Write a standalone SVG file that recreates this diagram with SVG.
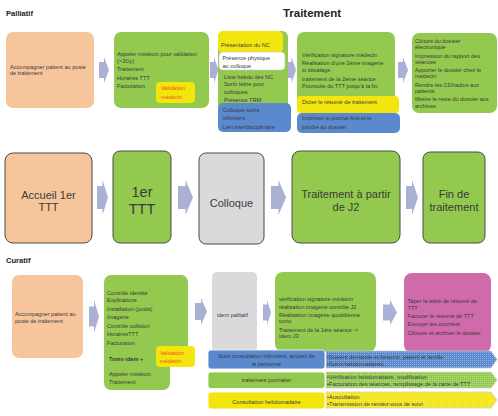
<svg xmlns="http://www.w3.org/2000/svg" width="498" height="416" viewBox="0 0 498 416">
<defs>
<style>
text{font-family:"Liberation Sans",Arial,sans-serif;fill:#3a3a3a}
.s{font-size:5.6px}
.h{font-size:7.6px;font-weight:bold;fill:#222}
.m{font-size:11px;text-anchor:middle}
.c{text-anchor:middle}
.r{fill:#f0501e}
.or{fill:#f7c59b}
.gr{fill:#93c94f}
.ye{fill:#f3e60f}
.bl{fill:#5b89cd}
.gy{fill:#dadadc}
.pk{fill:#cf6aab}
.ar{fill:#aab1d4}
.bd{stroke:#4a4a4a;stroke-width:1}
.wb{stroke:#ffffff;stroke-width:0.8}
.band{stroke:#d0d0d0;stroke-width:0.8}
</style>
<pattern id="pB" width="2" height="2" patternUnits="userSpaceOnUse"><rect width="2" height="2" fill="#5b89cd"/><rect width="1" height="1" fill="#8fb0e0"/></pattern>
<pattern id="pG" width="2" height="2" patternUnits="userSpaceOnUse"><rect width="2" height="2" fill="#93c94f"/><rect width="1" height="1" fill="#b7dc88"/></pattern>
<pattern id="pY" width="2" height="2" patternUnits="userSpaceOnUse"><rect width="2" height="2" fill="#f3e60f"/><rect width="1" height="1" fill="#f8ef70"/></pattern>
</defs>
<rect width="498" height="416" fill="#ffffff"/>

<g id="titles">
<text class="h" x="6" y="16">Palliatif</text>
<text x="312" y="17" style="font-size:11.5px;font-weight:bold;fill:#222;text-anchor:middle">Traitement</text>
<text class="h" x="6" y="263">Curatif</text>
</g>

<g id="connectors">
<path class="ar" d="M99,62 H104 V57 L109,70 L104,83 V78 H99 Z"/>
<path class="ar" d="M210,62 H214 V57 L218.5,70 L214,83 V78 H210 Z"/>
<path class="ar" d="M287,62 H291.5 V57 L296,70 L291.5,83 V78 H287 Z"/>
<path class="ar" d="M398,62 H403 V57 L408,70 L403,83 V78 H398 Z"/>
<path class="ar" d="M97,186 H102.5 V180 L108,197.5 L102.5,215 V209 H97 Z"/>
<path class="ar" d="M178,186 H185.5 V180 L193,197.5 L185.5,215 V209 H178 Z"/>
<path class="ar" d="M271,186 H278.5 V180 L286,197.5 L278.5,215 V209 H271 Z"/>
<path class="ar" d="M406,186 H412 V180 L418,197.5 L412,215 V209 H406 Z"/>
<path class="ar" d="M89,306.5 H94 V300 L99,316.5 L94,333 V326.5 H89 Z"/>
<path class="ar" d="M195,303 H201 V298 L207,311.5 L201,325 V320 H195 Z"/>
<path class="ar" d="M263,304.5 H267 V300 L271,312.5 L267,325 V320.5 H263 Z"/>
<path class="ar" d="M383,304.5 H390 V300 L397,312.5 L390,325 V320.5 H383 Z"/>
</g>

<g id="p1">
<rect class="or" x="6" y="32" width="88" height="76" rx="7"/>
<text class="s" x="10" y="68.5">Accompagner patient au poste</text>
<text class="s" x="10" y="75">de traitement</text>
</g>

<g id="p2">
<rect class="gr" x="114" y="32" width="95" height="76" rx="7"/>
<text class="s" x="117" y="55.5">Appeler médecin pour validation</text>
<text class="s" x="117" y="63">(&gt;3Gy)</text>
<text class="s" x="117" y="71">Traitement</text>
<text class="s" x="117" y="79.5">Horaires TTT</text>
<text class="s" x="117" y="88">Facturation</text>
<rect class="ye" x="156" y="82" width="39" height="21" rx="4"/>
<text class="s r" x="161" y="89.5">Validation</text>
<text class="s r" x="161" y="99">médecin</text>
</g>

<g id="p3">
<rect class="gr" x="218" y="31" width="70" height="80" rx="6"/>
<rect class="ye" x="218" y="31" width="65" height="22" rx="5"/>
<text class="s" x="221" y="47">Présentation du NC</text>
<rect x="219" y="52" width="66" height="18" rx="4" fill="#ffffff" stroke="#c8c8c8" stroke-width="0.6"/>
<text class="s" x="222.5" y="60.3">Présence physique</text>
<text class="s" x="222.5" y="67.7">au colloque</text>
<text class="s" x="224" y="78.7">Liste hebdo des NC</text>
<text class="s" x="224" y="86">Sortir lettre pour</text>
<text class="s" x="224" y="93.7">colloques</text>
<text class="s" x="224" y="101.5">Présence TRM</text>
<rect class="bl" x="218" y="103" width="73" height="29" rx="5"/>
<text class="s" x="222.5" y="112">Colloque soins</text>
<text class="s" x="222.5" y="120.3">infirmiers</text>
<text class="s" x="222.5" y="128.7">Lien interdisciplinaire</text>
</g>

<g id="p4">
<rect class="gr" x="297" y="32" width="98" height="76" rx="7"/>
<text class="s" x="302" y="57">Vérification signature  médecin</text>
<text class="s" x="302" y="65">Réalisation d'une 2ème imagerie</text>
<text class="s" x="302" y="72">si décalage</text>
<text class="s" x="302" y="81">traitement de la 2ème séance</text>
<text class="s" x="302" y="88">Poursuite du TTT jusqu'à la fin</text>
<rect class="ye" x="297" y="96" width="102" height="17" rx="4"/>
<text class="s" x="302" y="104">Dicter le résumé de traitement</text>
<rect class="bl" x="297" y="113" width="103" height="20" rx="5"/>
<text class="s" x="302" y="120">Imprimer le journal Aria et le</text>
<text class="s" x="302" y="128.5">joindre au dossier</text>
</g>

<g id="p5">
<rect class="gr" x="412" y="33" width="85" height="80" rx="7"/>
<text class="s" x="415" y="43">Clôture du dossier</text>
<text class="s" x="415" y="48.7">électronique</text>
<text class="s" x="415" y="58">Impression du rapport des</text>
<text class="s" x="415" y="63.7">séances</text>
<text class="s" x="415" y="72">Apporter le dossier chez le</text>
<text class="s" x="415" y="78">médecin</text>
<text class="s" x="415" y="87">Rendre les CD/radios aux</text>
<text class="s" x="415" y="92.7">patients</text>
<text class="s" x="415" y="101.3">Mettre le reste du dossier aux</text>
<text class="s" x="415" y="107.5">archives</text>
</g>

<g id="m1">
<rect class="or bd" x="5" y="153" width="87" height="90" rx="8"/>
<text class="m" x="48.5" y="198.5">Accueil 1er</text>
<text class="m" x="48.5" y="211">TTT</text>
</g>
<g id="m2">
<rect class="gr bd" x="113" y="151" width="58" height="92" rx="7"/>
<text class="m" x="142" y="197" style="font-size:14.5px">1er</text>
<text class="m" x="142" y="214" style="font-size:14.5px">TTT</text>
</g>
<g id="m3">
<rect class="gy bd" x="199" y="153" width="65" height="91" rx="7"/>
<text class="m" x="231.5" y="207">Colloque</text>
</g>
<g id="m4">
<rect class="gr bd" x="292" y="151" width="108" height="92" rx="8"/>
<text class="m" x="346" y="198">Traitement à partir</text>
<text class="m" x="346" y="210.5">de J2</text>
</g>
<g id="m5">
<rect class="gr bd" x="423" y="152" width="62" height="91" rx="7"/>
<text class="m" x="454" y="198">Fin de</text>
<text class="m" x="454" y="210.5">traitement</text>
</g>

<g id="c1">
<rect class="or" x="12" y="275" width="71" height="83" rx="7"/>
<text class="s" x="15" y="316">Accompagner patient au</text>
<text class="s" x="15" y="323">poste de traitement</text>
</g>

<g id="c2">
<rect class="gr" x="104" y="275" width="84" height="80" rx="7"/>
<rect class="gr" x="104" y="330" width="66" height="60" rx="7"/>
<text class="s" x="107" y="294.5">Contrôle identité</text>
<text class="s" x="107" y="302">Explications</text>
<text class="s" x="107" y="311">Installation (poids)</text>
<text class="s" x="107" y="319">Imagerie</text>
<text class="s" x="107" y="328">Contrôle collision</text>
<text class="s" x="107" y="336">HorairesTTT</text>
<text class="s" x="107" y="345">Facturation</text>
<text class="s" x="109" y="360.5" style="font-weight:bold">Tomo idem  +</text>
<text class="s" x="109" y="376">Appeler médecin</text>
<text class="s" x="109" y="384">Traitement</text>
<rect class="ye" x="156" y="346" width="39" height="21" rx="4"/>
<text class="s r" x="160" y="354.5">Validation</text>
<text class="s r" x="160" y="362.5">médecin</text>
</g>

<g id="c3">
<rect class="gy" x="212" y="272" width="45" height="80" rx="5"/>
<text class="s" x="217" y="317">idem palliatif</text>
</g>

<g id="c4">
<rect class="gr" x="275" y="272" width="101" height="80" rx="8"/>
<text class="s" x="279" y="300.5">vérification signature médecin</text>
<text class="s" x="279" y="309">réalisation imagerie contrôle J2</text>
<text class="s" x="279" y="316.5">Réalisation imagerie quotidienne</text>
<text class="s" x="279" y="323">tomo</text>
<text class="s" x="279" y="331.5">Traitement de la 1ère séance -&gt;</text>
<text class="s" x="279" y="338">idem J3</text>
</g>

<g id="c5">
<rect class="pk" x="404" y="273" width="87" height="80" rx="8"/>
<text class="s" x="407.5" y="303">Taper la lettre de résumé de</text>
<text class="s" x="407.5" y="309.5">TTT</text>
<text class="s" x="407.5" y="318">Facturer le résumé de TTT</text>
<text class="s" x="407.5" y="325.5">Envoyer les courriers</text>
<text class="s" x="407.5" y="334.5">Clôturer et  archiver le dossier</text>
</g>

<g id="b1">
<path class="band" fill="url(#pB)" d="M326,351 H491 L497,359.5 L491,368 H326 Z"/>
<rect class="bl wb" x="208" y="350" width="117" height="19" rx="3"/>
<text class="s c" x="266.5" y="358">Suivi consultation infirmière, accueil de</text>
<text class="s c" x="266.5" y="366">la personne</text>
<text class="s" x="327" y="359">•Suivent demande et besoins, patient et famille</text>
<text class="s" x="327" y="365.5">•Soins hebdomadaires...</text>
</g>
<g id="b2">
<path class="band" fill="url(#pG)" d="M326,372 H491 L497,380 L491,388 H326 Z"/>
<rect class="gr wb" x="208" y="372" width="117" height="16.5" rx="3"/>
<text class="s c" x="266.5" y="382">traitement journalier</text>
<text class="s" x="327" y="378.7">•Vérification hebdomadaire, modification</text>
<text class="s" x="327" y="386">•Facturation des séances, remplissage de la carte de TTT</text>
</g>
<g id="b3">
<path class="band" fill="url(#pY)" d="M326,392 H491 L497,400 L491,408 H326 Z"/>
<rect class="ye wb" x="208" y="392" width="117" height="17" rx="3"/>
<text class="s c" x="266.5" y="403.5">Consultation hebdomadaire</text>
<text class="s" x="327" y="398.7">•Auscultation</text>
<text class="s" x="327" y="406">•Transmission de rendez-vous de suivi</text>
</g>
</svg>
